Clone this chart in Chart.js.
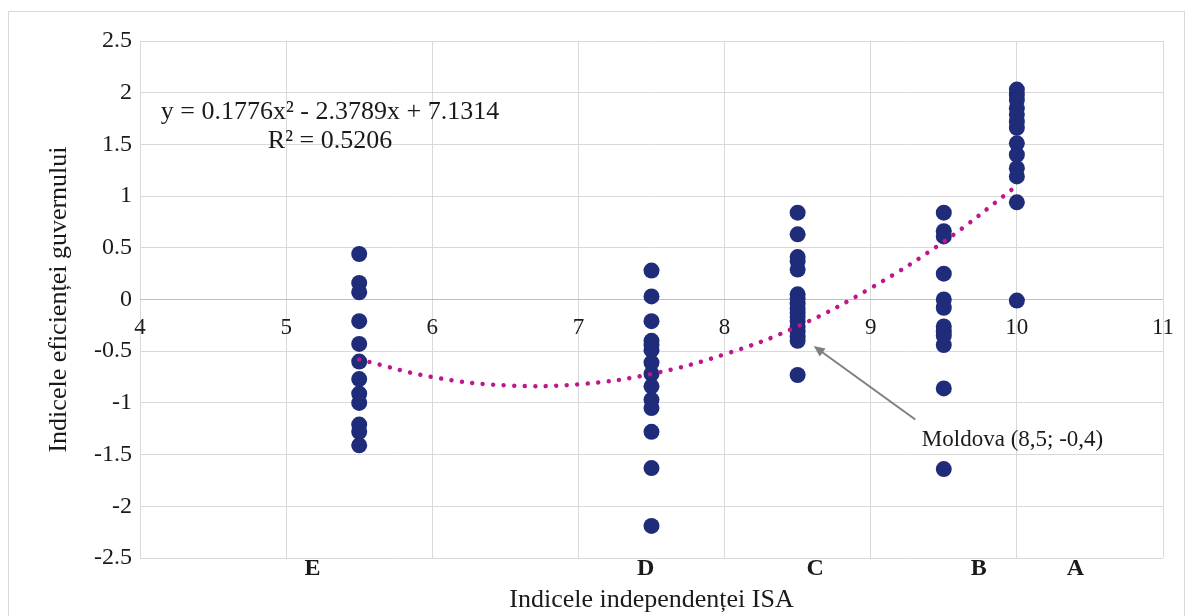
<!DOCTYPE html>
<html>
<head>
<meta charset="utf-8">
<script src="https://cdn.jsdelivr.net/npm/chart.js@4.4.1/dist/chart.umd.min.js"></script>
<style>
html, body { margin: 0; padding: 0; background: #fff; }
#wrap { position: relative; width: 1192px; height: 616px; overflow: hidden; }
#frame { position: absolute; left: 8px; top: 11px; width: 1177px; height: 620px; border: 1px solid #d9d9d9; box-sizing: border-box; }
canvas { position: absolute; left: 0; top: 0; }
</style>
</head>
<body>
<div id="wrap">
  <div id="frame"></div>
  <canvas id="chart" width="1192" height="616"></canvas>
</div>
<script>
// rating groups (x position = ISA independence index)
const groupX = [5.5, 7.5, 8.5, 9.5, 10];
// government effectiveness values per group
const eVals = [0.44, 0.16, 0.07, -0.21, -0.43, -0.60, -0.77, -0.91, -1.00, -1.21, -1.28, -1.41];
const dVals = [0.28, 0.03, -0.21, -0.40, -0.44, -0.49, -0.61, -0.72, -0.84, -0.97, -1.05, -1.28, -1.63, -2.19];
const cVals = [0.84, 0.63, 0.41, 0.37, 0.29, 0.05, 0.01, -0.04, -0.09, -0.13, -0.17, -0.21, -0.26, -0.31, -0.36, -0.40, -0.73];
const bVals = [0.84, 0.66, 0.61, 0.25, 0.00, -0.08, -0.26, -0.31, -0.35, -0.44, -0.86, -1.64];
const aVals = [2.03, 1.98, 1.93, 1.85, 1.79, 1.72, 1.66, 1.51, 1.40, 1.27, 1.19, 0.94, -0.01];
const groupVals = [eVals, dVals, cVals, bVals, aVals];

// polynomial trend line
const trendX = [5.5, 6, 6.5, 7, 7.5, 8, 8.5, 9, 9.5, 10];
const trendY = [-0.58, -0.75, -0.83, -0.82, -0.72, -0.53, -0.26, 0.11, 0.56, 1.10];

// rating letters along the bottom
const catLabels = ['E', 'D', 'C', 'B', 'A'];
const catPos = [5.18, 7.46, 8.62, 9.74, 10.40];

const eqLines = ['y = 0.1776x\u00b2 - 2.3789x + 7.1314', 'R\u00b2 = 0.5206'];
const moldova = { x: 8.5, y: -0.4, label: 'Moldova (8,5; -0,4)' };

// build scatter points
const points = [];
groupVals.forEach((vals, i) => {
    vals.forEach(v => points.push({ x: groupX[i], y: v }));
});
const trend = trendX.map((x, i) => ({ x: x, y: trendY[i] }));

const serif = '"Liberation Serif", "Times New Roman", serif';
const textColor = '#1a1a1a';

// draws the x tick numbers on the zero line, the equation and the Moldova note
const extras = {
    id: 'extras',
    afterDraw(chart) {
        const c = chart.ctx;
        const xs = chart.scales.x;
        const ys = chart.scales.y;
        const y0 = ys.getPixelForValue(0);
        c.save();
        c.fillStyle = textColor;
        c.font = '23px ' + serif;
        c.textAlign = 'center';
        c.textBaseline = 'middle';
        xs.ticks.forEach(t => {
            c.fillText(String(t.value), xs.getPixelForValue(t.value), y0 + 28);
        });

        // trend equation
        c.font = '26px ' + serif;
        const ex = xs.getPixelForValue(5.30);
        c.fillText(eqLines[0], ex, ys.getPixelForValue(1.816));
        c.fillText(eqLines[1], ex, ys.getPixelForValue(1.527));

        // arrow to Moldova
        const tx = xs.getPixelForValue(9.305), ty = ys.getPixelForValue(-1.16);
        const hx = xs.getPixelForValue(8.61), hy = ys.getPixelForValue(-0.45);
        const ang = Math.atan2(hy - ty, hx - tx);
        c.strokeStyle = '#7f7f7f';
        c.fillStyle = '#7f7f7f';
        c.lineWidth = 2;
        c.beginPath();
        c.moveTo(tx, ty);
        c.lineTo(hx - 8 * Math.cos(ang), hy - 8 * Math.sin(ang));
        c.stroke();
        c.beginPath();
        c.moveTo(hx, hy);
        c.lineTo(hx - 11 * Math.cos(ang) + 5 * Math.sin(ang), hy - 11 * Math.sin(ang) - 5 * Math.cos(ang));
        c.lineTo(hx - 11 * Math.cos(ang) - 5 * Math.sin(ang), hy - 11 * Math.sin(ang) + 5 * Math.cos(ang));
        c.closePath();
        c.fill();

        c.fillStyle = textColor;
        c.font = '23px ' + serif;
        c.textAlign = 'left';
        c.fillText(moldova.label, xs.getPixelForValue(9.35), ys.getPixelForValue(-1.36));
        c.restore();
    }
};

const ctx = document.getElementById('chart').getContext('2d');
const chart = new Chart(ctx, {
    type: 'scatter',
    data: {
        datasets: [{
            type: 'line',
            data: trend,
            order: 0,
            borderColor: '#c0168c',
            borderWidth: 4.5,
            borderCapStyle: 'round',
            borderDash: [0.01, 10.5],
            pointRadius: 0,
            fill: false,
            tension: 0.4
        }, {
            data: points,
            order: 1,
            backgroundColor: '#1f2c7a',
            borderColor: '#1f2c7a',
            borderWidth: 0,
            pointRadius: 8,
            pointHoverRadius: 8
        }]
    },
    options: {
        responsive: false,
        animation: false,
        events: [],
        layout: { padding: { left: 40, top: 41, right: 29, bottom: 0 } },
        plugins: { legend: { display: false }, tooltip: { enabled: false } },
        scales: {
            x: {
                type: 'linear', min: 4, max: 11,
                ticks: { stepSize: 1, display: false },
                grid: { color: '#d9d9d9', drawTicks: false },
                border: { display: false },
                afterFit: s => { s.height = 0; }
            },
            xCat: {
                type: 'linear', position: 'bottom', min: 4, max: 11,
                afterBuildTicks: s => { s.ticks = catPos.map(v => ({ value: v })); },
                ticks: {
                    autoSkip: false, maxRotation: 0, padding: -4,
                    color: textColor,
                    font: { family: serif, size: 24, weight: 'bold' },
                    callback: (v, i) => catLabels[i]
                },
                grid: { display: false, drawTicks: false },
                border: { display: false },
                title: {
                    display: true, text: 'Indicele independenței ISA',
                    color: textColor, font: { family: serif, size: 26 }, padding: 0
                },
                afterFit: s => { s.height = 58; }
            },
            y: {
                min: -2.5, max: 2.5,
                ticks: {
                    stepSize: 0.5, padding: 8, color: textColor,
                    font: { family: serif, size: 24 },
                    callback: v => String(v)
                },
                grid: {
                    drawTicks: false,
                    color: c => (c.tick && c.tick.value === 0) ? '#bfbfbf' : '#d9d9d9'
                },
                border: { display: false },
                title: {
                    display: true, text: 'Indicele eficienței guvernului',
                    color: textColor, font: { family: serif, size: 26 }, padding: 4
                },
                afterFit: s => { s.width = 100; }
            }
        }
    },
    plugins: [extras]
});
</script>
</body>
</html>
